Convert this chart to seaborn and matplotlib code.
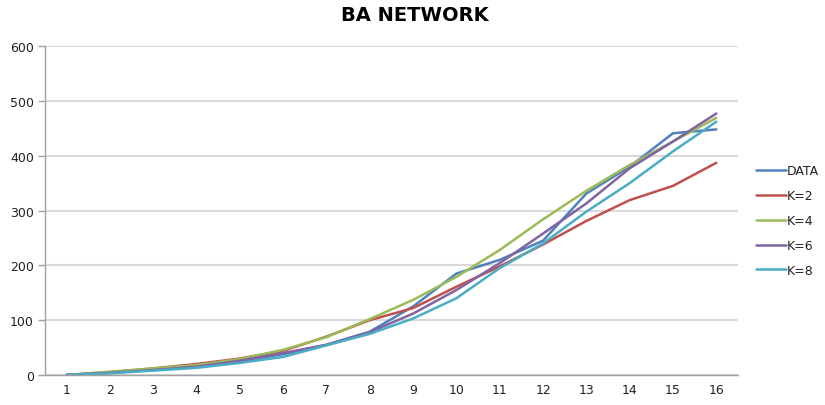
import numpy as np
import pandas as pd
import seaborn as sns
import matplotlib.pyplot as plt
from matplotlib.ticker import MultipleLocator

steps = list(range(1, 17))
data = [0, 4, 9, 15, 25, 38, 55, 79, 125, 185, 210, 245, 331, 380, 441, 448]
k2 = [0, 5, 12, 20, 30, 44, 70, 100, 122, 161, 198, 238, 281, 319, 345, 387]
k4 = [0, 6, 12, 18, 29, 46, 69, 102, 137, 179, 228, 284, 336, 383, 426, 469]
k6 = [0, 4, 9, 15, 26, 40, 55, 78, 112, 155, 204, 258, 313, 377, 426, 477]
k8 = [0, 3, 8, 13, 22, 33, 54, 75, 103, 140, 195, 240, 298, 350, 408, 462]

series_names = ["DATA", "K=2", "K=4", "K=6", "K=8"]
colors = ["#4F81BD", "#C0504D", "#9BBB59", "#8064A2", "#4BACC6"]

df = pd.DataFrame({"step": steps, "DATA": data, "K=2": k2, "K=4": k4,
                   "K=6": k6, "K=8": k8})
long_df = df.melt(id_vars="step", var_name="series", value_name="value")

sns.set_style("white")
plt.rcParams['font.family'] = ['DejaVu Sans']

fig = plt.figure(figsize=(8.25, 4.06), dpi=100)
ax = fig.add_axes([0.0545, 0.074, 0.84, 0.81])

sns.lineplot(data=long_df, x="step", y="value", hue="series",
             hue_order=series_names, palette=colors, linewidth=1.8,
             ax=ax, legend=True)

ax.set_xlim(0.5, 16.5)
ax.set_ylim(0, 600)
ax.set_xticks(steps)
ax.xaxis.set_minor_locator(MultipleLocator(1, offset=0.5))
ax.yaxis.set_major_locator(MultipleLocator(100))
ax.tick_params(axis="x", which="major", length=0, labelsize=9, pad=6,
               labelcolor="#222222")
ax.tick_params(axis="x", which="minor", length=5, color="#a0a0a0", width=1)
ax.tick_params(axis="y", length=5, color="#a0a0a0", width=1, labelsize=9, pad=3,
               left=True, labelcolor="#222222")
ax.grid(axis="y", color="#d9d9d9", linewidth=1.5)
ax.set_axisbelow(True)
for side in ["top", "right"]:
    ax.spines[side].set_visible(False)
for side in ["left", "bottom"]:
    ax.spines[side].set_color("#a0a0a0")
    ax.spines[side].set_linewidth(1)
ax.set_xlabel("")
ax.set_ylabel("")

leg = ax.legend(loc="upper left", bbox_to_anchor=(0.91, 0.605),
                bbox_transform=fig.transFigure, frameon=False, fontsize=9,
                handlelength=2.4, handletextpad=0.1, labelspacing=0.95,
                borderaxespad=0)
for t in leg.get_texts():
    t.set_color("#222222")

fig.suptitle("BA NETWORK", x=0.503, y=0.985, fontsize=14, fontweight="bold",
             va="top", color="black")

fig.savefig("out.png", dpi=100)
